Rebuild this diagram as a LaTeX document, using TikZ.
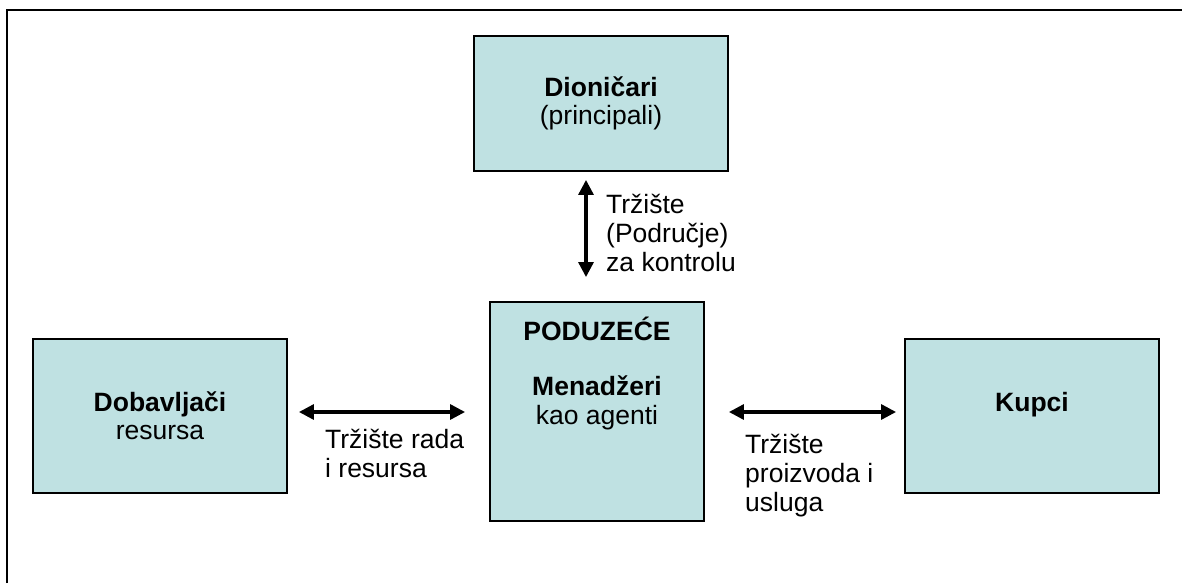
\documentclass[tikz,border=0pt]{standalone}
\usepackage{fontspec}
\setmainfont{Liberation Sans}
\usetikzlibrary{positioning,calc,arrows.meta}
\definecolor{boxfill}{HTML}{BFE1E2}
\definecolor{edge}{HTML}{000000}

\begin{document}
\begin{tikzpicture}[x=1pt,y=-1pt,
  box/.style={draw=edge, line width=1.9pt, fill=boxfill, minimum width=254pt, minimum height=154pt,
    inner sep=0pt, align=center, font=\fontsize{26.5}{28}\selectfont},
  lbl/.style={font=\fontsize{26.5}{29}\selectfont, align=left, inner sep=0pt},
  twoway/.style={{Triangle[length=15pt,width=15pt]}-{Triangle[length=15pt,width=15pt]}, line width=3.2pt}]
\useasboundingbox (0,0) rectangle (1182,583);
% frame, cut off at right and bottom
\draw[edge, line width=2pt] (7,583) -- (7,10) -- (1182,10);
% boxes
\node[box, minimum height=135pt] (dion) at (601,103.5) {\textbf{Dioničari}\\(principali)};
\node[box] (dob) at (160,416) {\textbf{Dobavljači}\\resursa};
\node[box, minimum width=214pt, minimum height=219pt] (firm) at (597,411.5) {};
\node[box] (kup) at (1032,416) {\textbf{Kupci}\\\phantom{x}};
\node[lbl, align=center, anchor=north] (firmtxt) at ([yshift=-16pt]firm.north)
  {\textbf{PODUZEĆE}\\[26pt]\textbf{Menadžeri}\\kao agenti};
% markets
\draw[twoway] ([xshift=-15pt,yshift=-8pt]dion.south) -- ([xshift=-11pt,yshift=24pt]firm.north);
\draw[twoway] ([xshift=11pt,yshift=4pt]dob.east) -- ([xshift=-24pt,yshift=-0.5pt]firm.west);
\draw[twoway] ([xshift=24pt,yshift=-0.5pt]firm.east) -- ([xshift=-8pt,yshift=4pt]kup.west);
\node[lbl, anchor=west] (ctrl) at (606,233) {Tržište\\(Područje)\\za kontrolu};
\node[lbl, anchor=west] (rada) at (325,453) {Tržište rada\\i resursa};
\node[lbl, anchor=west] (proiz) at (745,476) {Tržište\\proizvoda i\\usluga};
\end{tikzpicture}
\end{document}
